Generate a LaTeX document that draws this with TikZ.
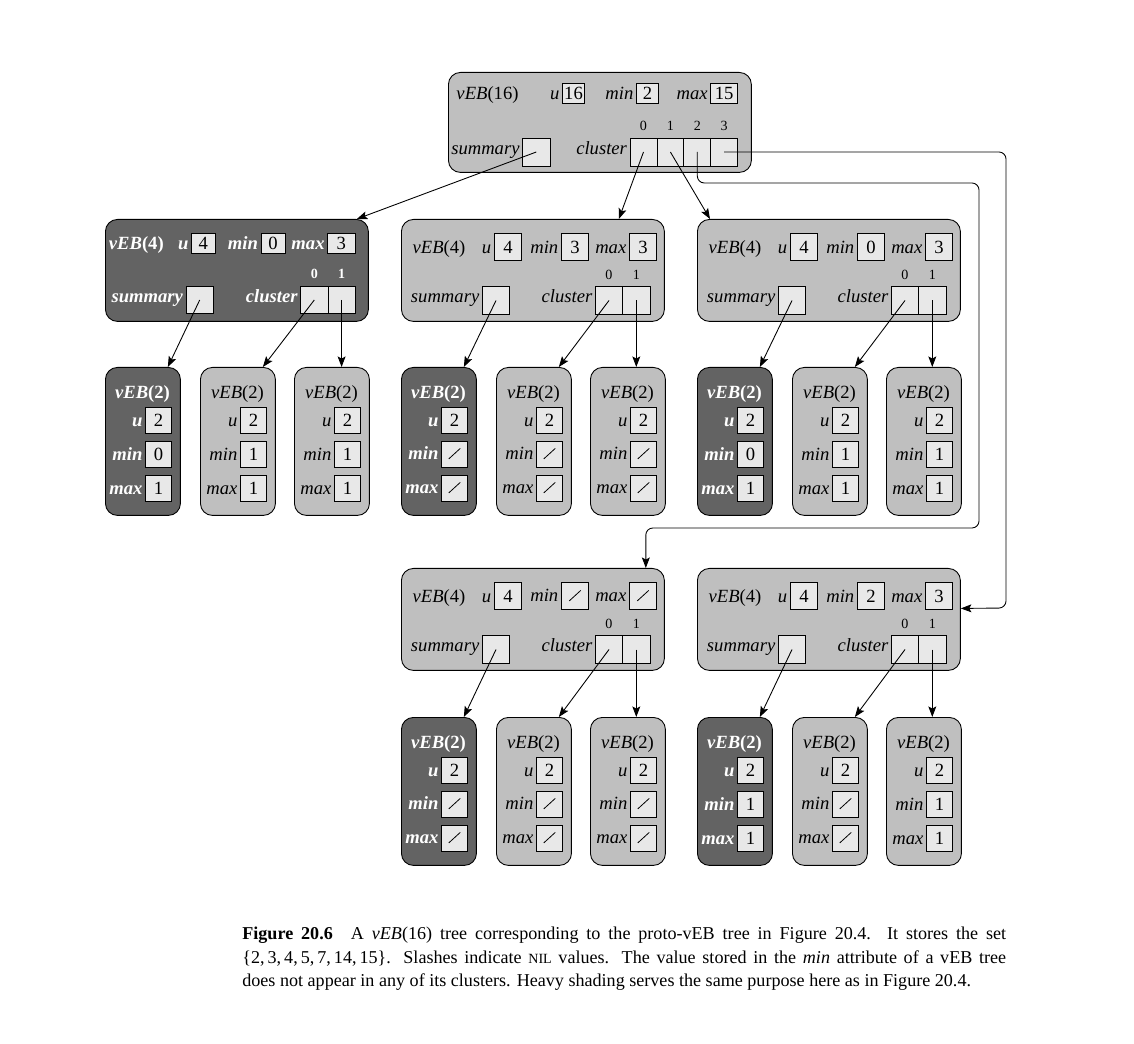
\documentclass[tikz,border=0pt]{standalone}
\usepackage{fontspec}
\setmainfont{Liberation Serif}
\usetikzlibrary{arrows.meta,positioning,calc}
\definecolor{gL}{gray}{0.75}
\definecolor{gD}{gray}{0.39}
\definecolor{gB}{gray}{0.91}
\newcommand{\vfont}{\fontsize{10.6}{12}\selectfont}
\newcommand{\ifont}{\fontsize{8}{9}\selectfont}
\newcommand{\nv}{\tikz[baseline=-0.6pt,x=1cm,y=1cm]\draw[line width=0.45pt] (0,0) -- (0.23,0.21);}
\tikzset{
  lt/.style={draw, fill=gL, rounded corners=0.24cm, line width=0.5pt},
  dk/.style={draw, fill=gD, rounded corners=0.24cm, line width=0.5pt},
  ltt/.style={font=\vfont, inner sep=0pt},
  dkt/.style={font=\vfont\bfseries, text=white, inner sep=0pt},
  ltl/.style={font=\vfont\itshape, anchor=base east, inner sep=1.3pt},
  dkl/.style={font=\vfont\bfseries\itshape, text=white, anchor=base east, inner sep=1.3pt},
  ltx/.style={font=\ifont, anchor=south, inner sep=0pt},
  dkx/.style={font=\ifont\bfseries, text=white, anchor=south, inner sep=0pt},
  fld/.style={draw, fill=gB, line width=0.5pt, inner sep=0pt, font=\vfont, minimum width=0.52cm, minimum height=0.52cm},
  sm/.style={minimum width=0.46cm, minimum height=0.4cm},
  big/.style={minimum width=0.546cm, minimum height=0.55cm},
  vtwo/.style={anchor=north west, minimum width=1.5cm, minimum height=2.96cm},
  vfour/.style={anchor=north west, minimum width=5.26cm, minimum height=2.04cm},
  ptr/.style={line width=0.5pt, -{Stealth[length=6pt,width=4.5pt,inset=1.2pt]}},
  captext/.style={anchor=north west, inner sep=0pt, text width=15.28cm, align=justify, font=\fontsize{10.3}{13.3}\selectfont}
}
% vEB(2): name, left, top, lt/dk, min, max
\newcommand{\vebtwo}[6]{%
\node[#4, vtwo] (#1) at (#2,#3) {};
\node[fld] (#1_u) at (#2+53.5,#3+53) {2};
\node[fld] (#1_mn) at (#2+53.5,#3+87) {#5};
\node[fld] (#1_mx) at (#2+53.5,#3+121) {#6};
\node[#4t, anchor=base] at ([xshift=-0.32cm, yshift=0.56cm]#1_u.base) {\textit{vEB}(2)};
\node[#4l] at (#1_u.base west) {u};
\node[#4l] at (#1_mn.base west) {min};
\node[#4l] at (#1_mx.base west) {max};
}
% light vEB(4): name, left, top, min, max
\newcommand{\vebfour}[5]{%
\node[lt, vfour] (#1) at (#2,#3) {};
\node[fld, big] (#1_u) at (#2+107,#3+28) {4};
\node[fld, big] (#1_mn) at (#2+174,#3+28) {#4};
\node[fld, big] (#1_mx) at (#2+242,#3+28) {#5};
\node[ltt, anchor=base] at ([xshift=-1.38cm]#1_u.base) {\textit{vEB}(4)};
\node[ltl] at (#1_u.base west) {u};
\node[ltl] at (#1_mn.base west) {min};
\node[ltl] at (#1_mx.base west) {max};
\node[fld, big] (#1_sb) at (#2+95,#3+81.5) {};
\node[fld, big] (#1_c0) at (#2+208,#3+81.5) {};
\node[fld, big] (#1_c1) at (#2+235.3,#3+81.5) {};
\node[ltl] at ([yshift=-1.3pt]#1_sb.west) {summary};
\node[ltl] at ([yshift=-1.3pt]#1_c0.west) {cluster};
\node[ltx] at ([yshift=0.13cm]#1_c0.north) {0};
\node[ltx] at ([yshift=0.13cm]#1_c1.north) {1};
}
\newcommand{\links}[1]{%
\draw[ptr] (#1_sb.center) -- ([xshift=-0.26cm]#1_s.north east);
\draw[ptr] (#1_c0.center) -- ([xshift=-0.26cm]#1_0.north east);
\draw[ptr] (#1_c1.center) -- (#1_c1.center |- #1_1.north);
}
\begin{document}
\begin{tikzpicture}[x=0.02cm, y=-0.02cm]
\useasboundingbox (0,0) rectangle (1134,1044);
% vEB(16)
\node[lt, anchor=north west, minimum width=6.06cm, minimum height=2cm] (R) at (448,72) {};
\node[fld, sm, minimum width=0.44cm] (R_u) at (573.5,93.3) {16};
\node[fld, sm, minimum width=0.44cm] (R_mn) at (647.5,93.3) {2};
\node[fld, sm, minimum width=0.54cm] (R_mx) at (724.2,93.3) {15};
\node[ltt, anchor=base] at ([xshift=-1.72cm]R_u.base) {\textit{vEB}(16)};
\node[ltl] at (R_u.base west) {u};
\node[ltl] at (R_mn.base west) {min};
\node[ltl] at (R_mx.base west) {max};
\node[fld, minimum width=0.546cm, minimum height=0.56cm] (R_sb) at (536.3,152) {};
\node[fld, minimum width=0.538cm, minimum height=0.56cm] (R_c0) at (643.5,152) {};
\node[fld, minimum width=0.538cm, minimum height=0.56cm] (R_c1) at (670.4,152) {};
\node[fld, minimum width=0.538cm, minimum height=0.56cm] (R_c2) at (697.3,152) {};
\node[fld, minimum width=0.538cm, minimum height=0.56cm] (R_c3) at (724.2,152) {};
\node[ltl] at ([yshift=-1.3pt]R_sb.west) {summary};
\node[ltl] at ([yshift=-1.3pt]R_c0.west) {cluster};
\node[ltx] at ([yshift=0.13cm]R_c0.north) {0};
\node[ltx] at ([yshift=0.13cm]R_c1.north) {1};
\node[ltx] at ([yshift=0.13cm]R_c2.north) {2};
\node[ltx] at ([yshift=0.13cm]R_c3.north) {3};
% summary vEB(4)
\node[dk, vfour] (R_s) at (105,219) {};
\node[fld, sm, minimum width=0.466cm] (R_s_u) at (203.3,243) {4};
\node[fld, sm, minimum width=0.48cm] (R_s_mn) at (273,243) {0};
\node[fld, sm, minimum width=0.546cm] (R_s_mx) at (341.3,243) {3};
\node[dkt, anchor=base] at ([xshift=-1.34cm]R_s_u.base) {\textit{vEB}(4)};
\node[dkl] at (R_s_u.base west) {u};
\node[dkl] at (R_s_mn.base west) {min};
\node[dkl] at (R_s_mx.base west) {max};
\node[fld, big] (R_s_sb) at (199.7,300) {};
\node[fld, big] (R_s_c0) at (314.3,300) {};
\node[fld, big] (R_s_c1) at (341.6,300) {};
\node[dkl] at ([yshift=-1.3pt]R_s_sb.west) {summary};
\node[dkl] at ([yshift=-1.3pt]R_s_c0.west) {cluster};
\node[dkx] at ([yshift=0.13cm]R_s_c0.north) {0};
\node[dkx] at ([yshift=0.13cm]R_s_c1.north) {1};
% cluster vEB(4)s
\vebfour{R_0}{401}{219}{3}{3}
\vebfour{R_1}{697}{219}{0}{3}
\vebfour{R_2}{401}{568}{\nv}{\nv}
\vebfour{R_3}{697}{568}{2}{3}
% vEB(2)s
\vebtwo{R_s_s}{105}{367}{dk}{0}{1}
\vebtwo{R_s_0}{200}{367}{lt}{1}{1}
\vebtwo{R_s_1}{294}{367}{lt}{1}{1}
\vebtwo{R_0_s}{401}{367}{dk}{\nv}{\nv}
\vebtwo{R_0_0}{496}{367}{lt}{\nv}{\nv}
\vebtwo{R_0_1}{590}{367}{lt}{\nv}{\nv}
\vebtwo{R_1_s}{697}{367}{dk}{0}{1}
\vebtwo{R_1_0}{792}{367}{lt}{1}{1}
\vebtwo{R_1_1}{886}{367}{lt}{1}{1}
\vebtwo{R_2_s}{401}{717}{dk}{\nv}{\nv}
\vebtwo{R_2_0}{496}{717}{lt}{\nv}{\nv}
\vebtwo{R_2_1}{590}{717}{lt}{\nv}{\nv}
\vebtwo{R_3_s}{697}{717}{dk}{1}{1}
\vebtwo{R_3_0}{792}{717}{lt}{\nv}{\nv}
\vebtwo{R_3_1}{886}{717}{lt}{1}{1}
% pointers
\draw[ptr] (R_sb.center) -- ([xshift=-0.24cm]R_s.north east);
\draw[ptr] (R_c0.center) -- ([xshift=-0.92cm]R_0.north east);
\draw[ptr] (R_c1.center) -- ([xshift=0.26cm]R_1.north west);
\draw[ptr, rounded corners=0.14cm] (R_c2.center) |- (979,183) -- (979,528) -| ([xshift=-0.38cm]R_2.north east);
\draw[ptr, rounded corners=0.14cm] (R_c3.center) -| (1006,608) -- ([yshift=0.22cm]R_3.east);
\links{R_s}
\links{R_0}
\links{R_1}
\links{R_2}
\links{R_3}
\node[captext] (cap) at (242,927) {\textbf{Figure 20.6}\quad A \textit{vEB}(16) tree corresponding to the proto-vEB tree in Figure 20.4. It stores the set\linebreak
\{2,\,3,\,4,\,5,\,7,\,14,\,15\}. Slashes indicate {\fontsize{8}{9}\selectfont NIL} values. The value stored in the \textit{min} attribute of a vEB tree\linebreak
does not appear in any of its clusters. Heavy shading serves the same purpose here as in Figure 20.4.};
\end{tikzpicture}
\end{document}
